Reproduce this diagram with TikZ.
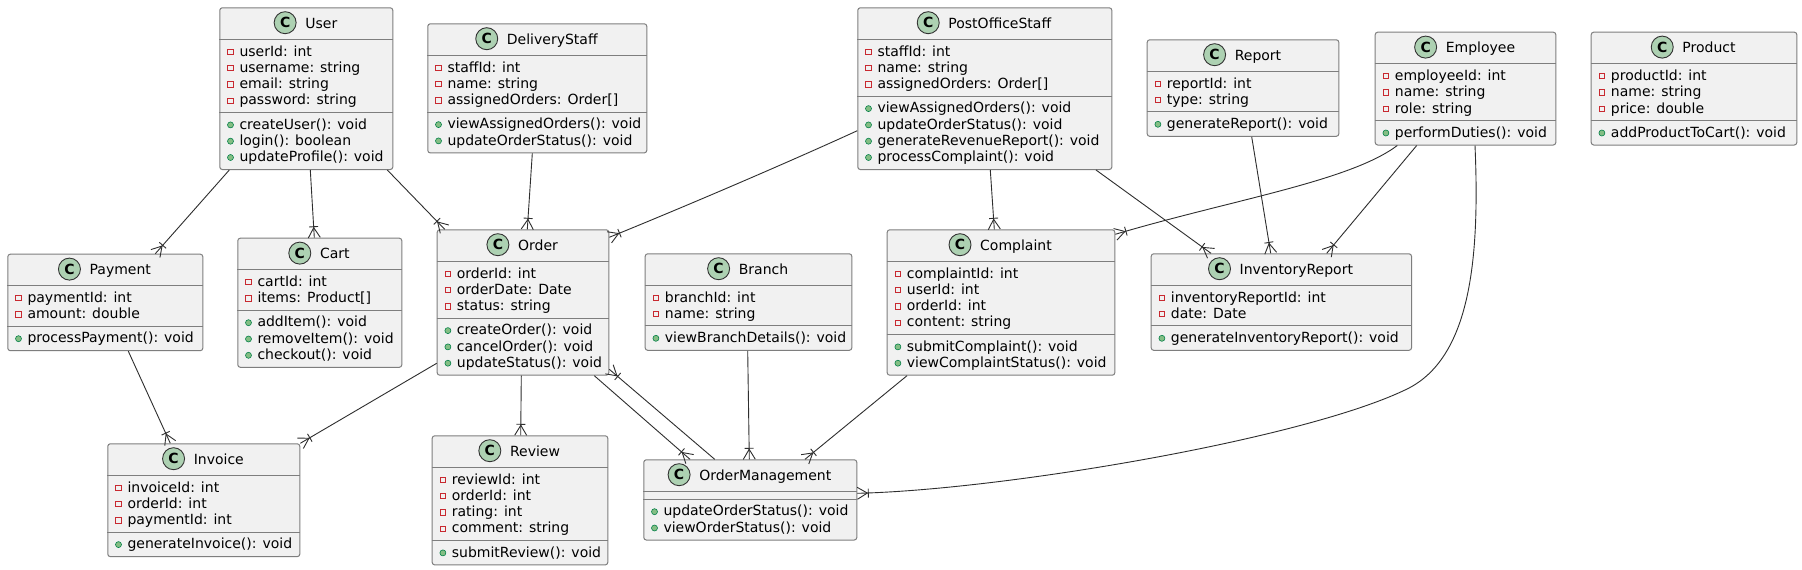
\documentclass[tikz,border=0pt]{standalone}
\usepackage{fontspec}
\setmainfont{DejaVu Sans}
\usetikzlibrary{calc,decorations.markings}
\definecolor{boxfill}{HTML}{F1F1F1}
\definecolor{boxline}{HTML}{7E7E7E}
\definecolor{iconfill}{HTML}{ADD1B2}
\definecolor{iconline}{HTML}{333333}
\definecolor{privred}{HTML}{C82930}
\definecolor{pubfill}{HTML}{84BE84}
\definecolor{publine}{HTML}{038048}
\definecolor{conn}{HTML}{2E2E2E}
\tikzset{
 classbox/.style={draw=boxline, fill=boxfill, line width=1pt, rounded corners=2.5pt, inner sep=0pt},
 sepline/.style={draw=boxline, line width=1pt},
 member/.style={inner sep=0pt, font=\fontsize{14}{16}\selectfont},
 privmark/.style={rectangle, draw=privred, minimum size=5.2pt, inner sep=0pt, line width=0.9pt},
 pubmark/.style={circle, draw=publine, fill=pubfill, minimum size=6pt, inner sep=0pt, line width=0.6pt},
 classicon/.style={circle, draw=iconline, fill=iconfill, minimum size=22pt, inner sep=0pt, line width=0.9pt, font=\bfseries\fontsize{14}{14}\selectfont},
 rel/.style={draw=conn, line width=0.9pt, postaction={decorate},
   decoration={markings, mark=at position 1 with {\draw[conn, line width=0.9pt] (-10pt,0pt) -- (0pt,6pt) (-10pt,0pt) -- (0pt,-6pt) (-11pt,-4.5pt) -- (-11pt,4.5pt);}}},
}
\newcommand{\umlclass}[7]{%
  \gdef\nA{0}\gdef\nM{0}%
  \def\uA{#6}\def\uM{#7}%
  \ifx\uA\empty\else\foreach \a [count=\i] in {#6} {\xdef\nA{\i}}\fi
  \ifx\uM\empty\else\foreach \a [count=\i] in {#7} {\xdef\nM{\i}}\fi
  \pgfmathsetmacro\hA{\nA*16.3+7.8}%
  \pgfmathsetmacro\hB{\nM*16.3+7.8}%
  \pgfmathsetmacro\hH{32+\hA+\hB}%
  \pgfmathsetmacro\sB{32+\hA}%
  \pgfmathsetmacro\wW{#4-#2}%
  \pgfmathsetmacro\cX{(#4-#2)/2+15.5}%
  \node[classbox, minimum width=\wW pt, minimum height=\hH pt, anchor=north west] (#1) at (#2,#3) {};
  \draw[sepline] ($(#1.north west)+(0,32)$) -- ($(#1.north east)+(0,32)$);
  \draw[sepline] ($(#1.north west)+(0,\sB)$) -- ($(#1.north east)+(0,\sB)$);
  \node[member, anchor=base] (#1-name) at ($(#1.north west)+(\cX,20.7)$) {#5};
  \node[classicon] (#1-icon) at ($(#1-name.base west)+(-20,-5.3)$) {C};
  \ifx\uA\empty\else
  \foreach \a [count=\i] in {#6} {%
    \pgfmathsetmacro\yy{32+16.7+(\i-1)*16.3}%
    \pgfmathsetmacro\ym{\yy-4.2}%
    \node[member, anchor=base west] (#1-a\i) at ($(#1.north west)+(20,\yy)$) {\a};
    \node[privmark] (#1-pa\i) at ($(#1.north west)+(11.2,\ym)$) {};
  }\fi
  \ifx\uM\empty\else
  \foreach \a [count=\i] in {#7} {%
    \pgfmathsetmacro\yy{\sB+16.8+(\i-1)*16.3}%
    \pgfmathsetmacro\ym{\yy-4.2}%
    \node[member, anchor=base west] (#1-m\i) at ($(#1.north west)+(20,\yy)$) {\a};
    \node[pubmark] (#1-pm\i) at ($(#1.north west)+(11.2,\ym)$) {};
  }\fi
}
\begin{document}
\begin{tikzpicture}[x=1pt,y=-1pt]
\fill[white] (0,0) rectangle (1802,570);
\useasboundingbox (0,0) rectangle (1802,570);

\umlclass{User}{219.3}{7.3}{392.3}{User}{userId: int,username: string,email: string,password: string}{createUser(): void,login(): boolean,updateProfile(): void}
\umlclass{DStaff}{427.3}{23.3}{646.3}{DeliveryStaff}{staffId: int,name: string,assignedOrders: Order[]}{viewAssignedOrders(): void,updateOrderStatus(): void}
\umlclass{POStaff}{857.3}{7.3}{1111.3}{PostOfficeStaff}{staffId: int,name: string,assignedOrders: Order[]}{viewAssignedOrders(): void,updateOrderStatus(): void,generateRevenueReport(): void,processComplaint(): void}
\umlclass{Report}{1146.7}{39.3}{1338.3}{Report}{reportId: int,type: string}{generateReport(): void}
\umlclass{Employee}{1374.7}{31.7}{1555.3}{Employee}{employeeId: int,name: string,role: string}{performDuties(): void}
\umlclass{Product}{1590.7}{31.7}{1796.3}{Product}{productId: int,name: string,price: double}{addProductToCart(): void}
\umlclass{Payment}{7.3}{253.7}{202.3}{Payment}{paymentId: int,amount: double}{processPayment(): void}
\umlclass{Cart}{237.3}{237.7}{401.3}{Cart}{cartId: int,items: Product[]}{addItem(): void,removeItem(): void,checkout(): void}
\umlclass{Order}{436.7}{229.3}{608.3}{Order}{orderId: int,orderDate: Date,status: string}{createOrder(): void,cancelOrder(): void,updateStatus(): void}
\umlclass{Branch}{644.7}{253.3}{851.3}{Branch}{branchId: int,name: string}{viewBranchDetails(): void}
\umlclass{Complaint}{886.7}{229.3}{1114.3}{Complaint}{complaintId: int,userId: int,orderId: int,content: string}{submitComplaint(): void,viewComplaintStatus(): void}
\umlclass{InvRep}{1150.7}{253.3}{1411}{InventoryReport}{inventoryReportId: int,date: Date}{generateInventoryReport(): void}
\umlclass{Invoice}{107.3}{443.3}{299.3}{Invoice}{invoiceId: int,orderId: int,paymentId: int}{generateInvoice(): void}
\umlclass{Review}{431.7}{435.3}{607.3}{Review}{reviewId: int,orderId: int,rating: int,comment: string}{submitReview(): void}
\umlclass{OM}{643.3}{459.3}{856.3}{OrderManagement}{}{updateOrderStatus(): void,viewOrderStatus(): void}

% connectors
\draw[rel] ($(User.south west)+(10,0)$) -- ($(Payment.north west)+(148,0)$);
\draw[rel] ($(User.south west)+(91,0)$) -- ($(Cart.north west)+(77,0)$);
\draw[rel] ($(User.south west)+(168,0)$) -- ($(Order.north west)+(8,0)$);
\draw[rel] ($(DStaff.south west)+(105,0)$) -- ($(Order.north west)+(90.6,0)$);
\draw[rel] ($(POStaff.north west)+(0,123.4)$) .. controls +(-57.3,26.3) and +(91.7,-37.3) .. ($(Order.north east)+(0,8)$);
\draw[rel] ($(Payment.south west)+(121,0)$) -- ($(Invoice.north west)+(63,0)$);
\draw[rel] ($(Order.north west)+(0,134)$) -- (Invoice.north east);
\draw[rel] ($(Order.south west)+(84.6,0)$) -- ($(Review.north west)+(89,0)$);
\draw[rel] ($(Order.south west)+(157.6,0)$) -- ($(OM.north west)+(46.7,0)$);
\draw[rel] ($(OM.north west)+(71.4,0)$) -- ($(Order.north east)+(0,140)$);
\draw[rel] ($(Branch.south west)+(103,0)$) -- ($(OM.north west)+(106,0)$);
\draw[rel] ($(Complaint.south west)+(20.3,0)$) -- ($(OM.north west)+(161.7,0)$);
\draw[rel] ($(POStaff.south west)+(133,0)$) -- ($(Complaint.north west)+(107.6,0)$);
\draw[rel] ($(POStaff.south west)+(238.7,0)$) -- ($(InvRep.north west)+(60.3,0)$);
\draw[rel] ($(Report.south west)+(105,0)$) -- ($(InvRep.north west)+(120,0)$);
\draw[rel] ($(Employee.south west)+(22.6,0)$) .. controls +(-47.3,35.7) and +(115.7,-34.3) .. ($(Complaint.north east)+(0,5)$);
\draw[rel] ($(Employee.south west)+(42,0)$) -- ($(InvRep.north west)+(176,0)$);
\coordinate (bendEO) at (1405,390);
\draw[rel] ($(Employee.south west)+(100.3,0)$) .. controls +(5,115.7) and +(65,-30) .. (bendEO) .. controls +(-105,50) and +(143.7,-3.3) .. ($(OM.north east)+(0,34)$);
\end{tikzpicture}
\end{document}
